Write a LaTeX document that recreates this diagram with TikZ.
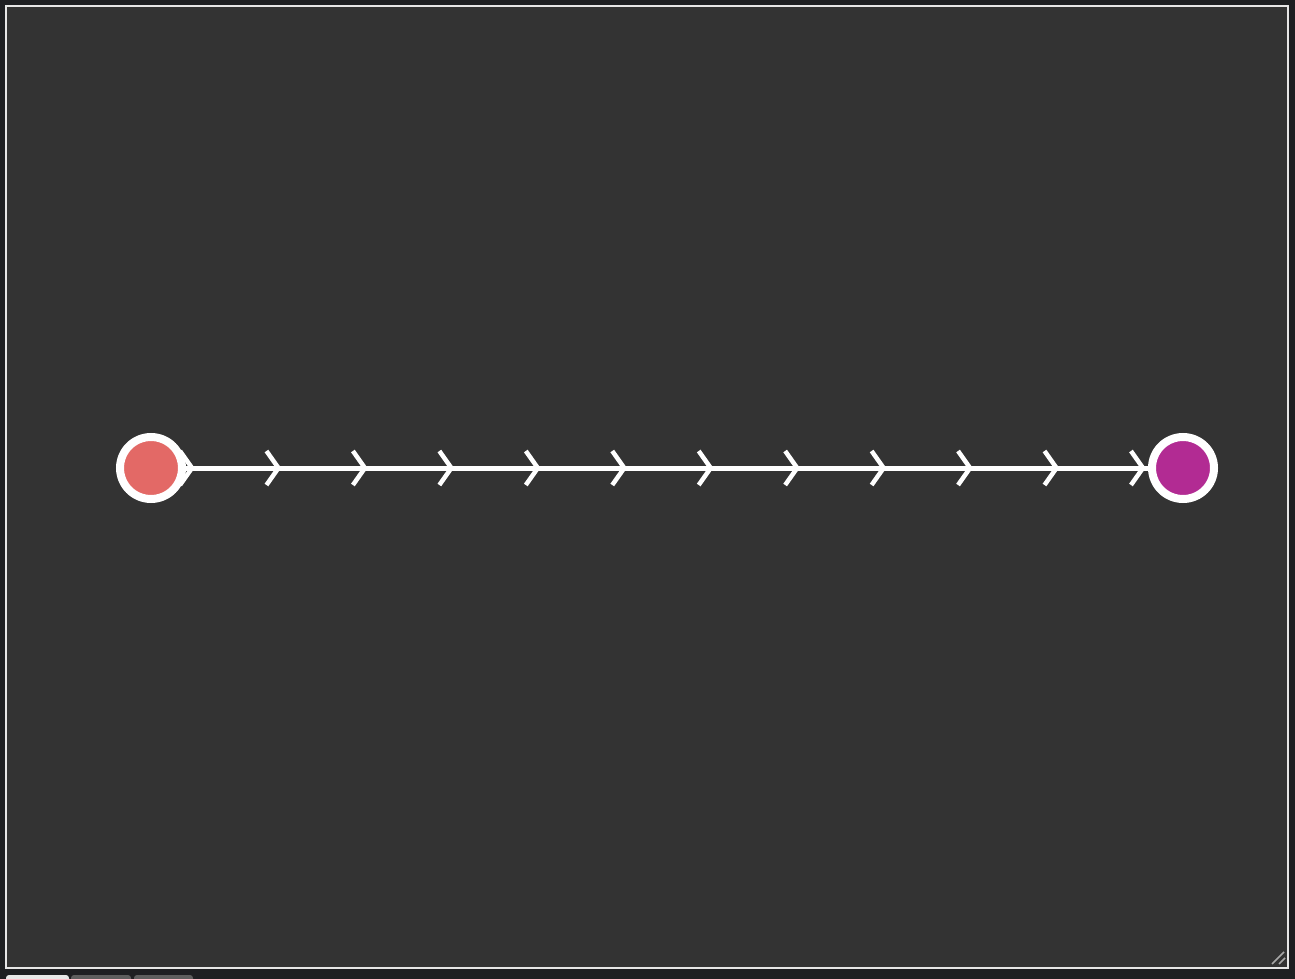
\documentclass[tikz,border=0pt]{standalone}
\usetikzlibrary{decorations.markings}
\definecolor{outerbg}{HTML}{1E1F22}
\definecolor{panelbg}{HTML}{333333}
\definecolor{panelborder}{HTML}{E6E6E6}
\definecolor{nodered}{HTML}{E36966}
\definecolor{nodemagenta}{HTML}{B22B93}
\definecolor{tabactive}{HTML}{E8E8E8}
\definecolor{tabidle}{HTML}{5E5E5E}
\definecolor{gripcol}{HTML}{A8A8A8}
\tikzset{
  vertex/.style={circle, draw=white, line width=8pt, minimum size=62pt, inner sep=0pt, outer sep=0pt},
  flowedge/.style={draw=white, line width=5pt,
    postaction={decorate},
    decoration={markings,
      mark=between positions 10pt and -8pt step 86.45pt with {
        \draw[white, line width=4.5pt] (-12pt,-17pt) -- (0pt,0pt) -- (-12pt,17pt);
      }}},
  tabbox/.style={rounded corners=3pt, draw=none}
}
\begin{document}
\begin{tikzpicture}[x=1pt, y=-1pt]
  \useasboundingbox (0,0) rectangle (1295,979);
  \fill[outerbg] (0,0) rectangle (1295,979);
  \filldraw[fill=panelbg, draw=panelborder, line width=2pt] (6,6) rectangle (1288,968);
  % tabs
  \fill[tabactive, tabbox] (6,975) rectangle (69,990);
  \fill[tabidle, tabbox] (71,975) rectangle (131,990);
  \fill[tabidle, tabbox] (134,975) rectangle (193,990);
  % resize grip
  \draw[gripcol, line width=1.6pt] (1272,964) -- (1284,952);
  \draw[gripcol, line width=1.6pt] (1279,964) -- (1285,958);
  % nodes
  \node[vertex, fill=nodered] (src) at (151,468) {};
  \node[vertex, fill=nodemagenta] (dst) at (1183,468) {};
  % connector
  \path[flowedge] (src) -- (dst);
\end{tikzpicture}
\end{document}
